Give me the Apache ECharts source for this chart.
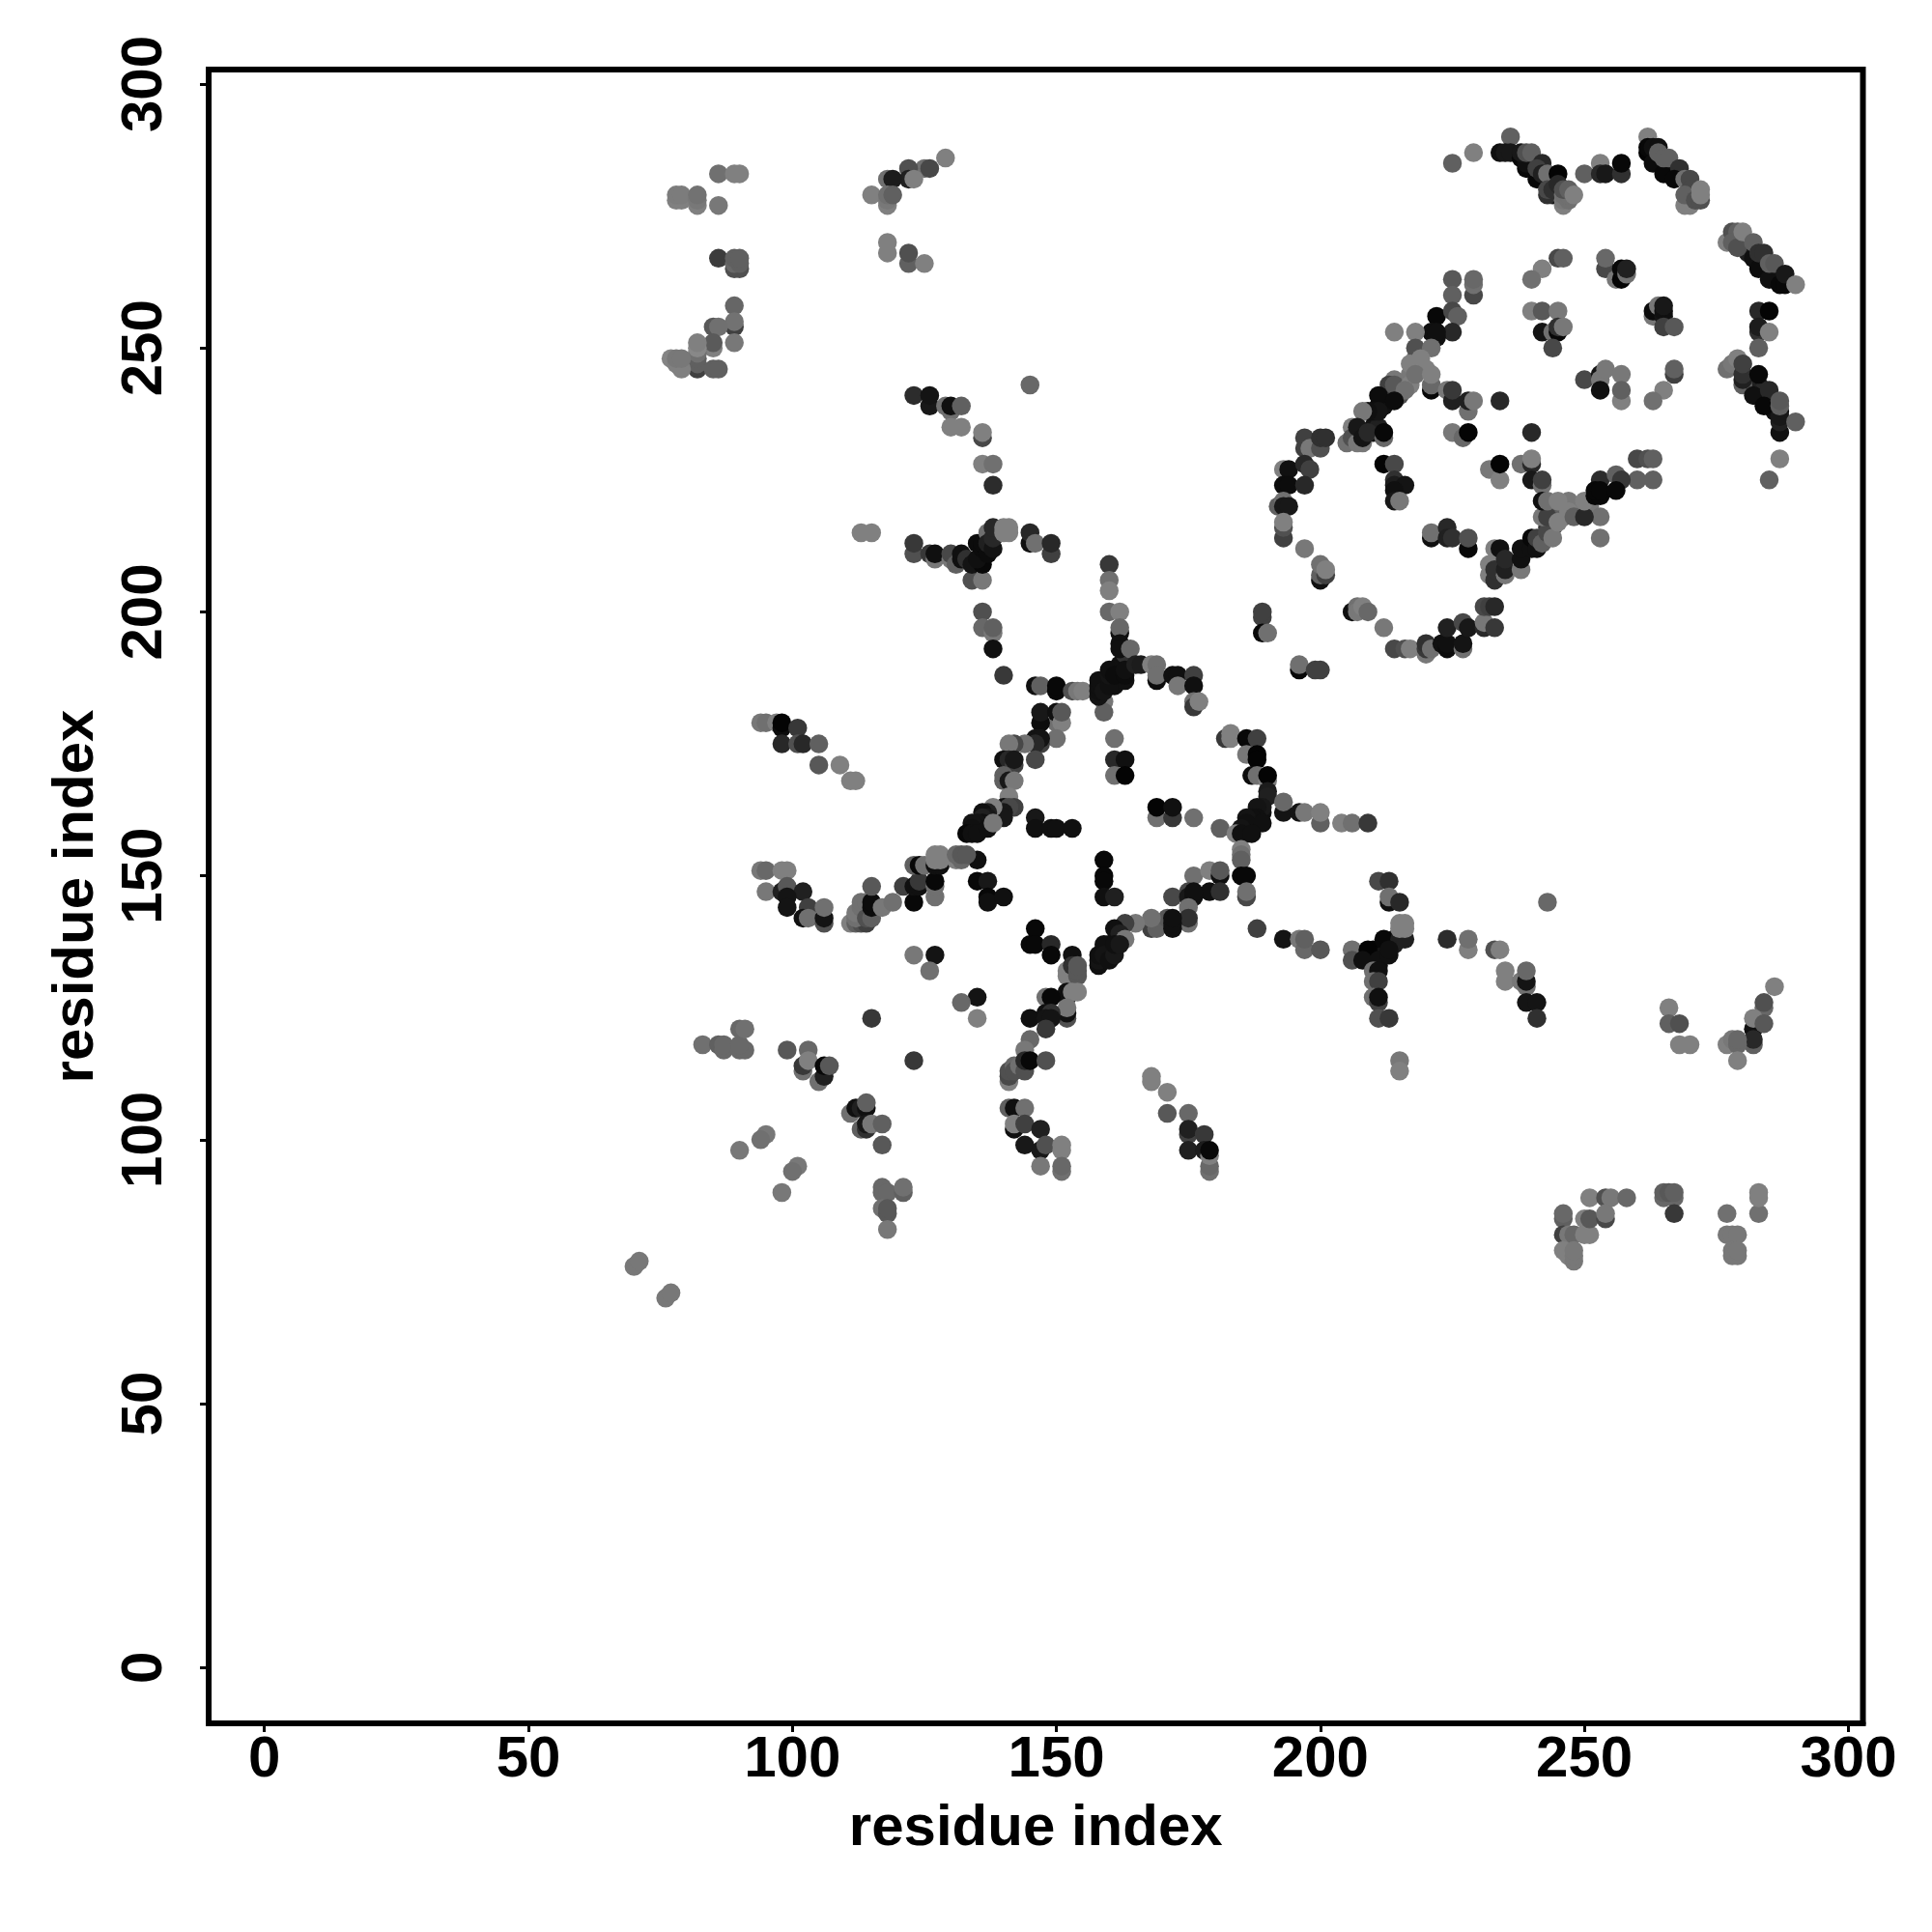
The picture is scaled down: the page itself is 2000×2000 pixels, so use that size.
<!DOCTYPE html>
<html><head><meta charset="utf-8">
<script src="https://cdn.jsdelivr.net/npm/echarts@6/dist/echarts.min.js"></script>
<style>html,body{margin:0;padding:0;background:#fff}#c{width:2000px;height:2000px}</style></head>
<body><div id="c"></div>
<script>
const axisTicks = [0, 50, 100, 150, 200, 250, 300];
const axisTitle = "residue index";
// each contact: [residue x, residue y, grey level]
const denseCores = [
[207,135,0x50],[208,135,0x08],[209,135,0x08],[210,135,0x08],[210,134,0x08],[211,135,0x10],[212,136,0x08],[212,137,0x08],[213,137,0x10],[214,137,0x20],[214,138,0x10],[210,136,0x08],[209,134,0x08],[211,133,0x10],[210,133,0x18],[212,135,0x14],
[281,243,0x10],[282,242,0x10],[283,241,0x14],[284,240,0x10],[285,239,0x08],[286,238,0x10],[287,238,0x10],[283,243,0x20],[284,242,0x28],[286,240,0x40],
[283,266,0x10],[284,265,0x14],[285,264,0x10],[286,263,0x0c],[284,266,0x30],[286,264,0x20],[281,268,0x20],[266,284,0x10],[266,283,0x0c],[267,283,0x10],[265,285,0x20],
[240,284,0x08],[240,285,0x10],[243,282,0x20],[244,281,0x20],[244,279,0x18],[243,279,0x30],
[244,220,0x78],[246,220,0x78],[247,221,0x78],[246,218,0x70],[249,219,0x78],[251,220,0x78],[245,219,0x60],[244,216,0x48],[243,216,0x30],[244,217,0x50],
[212,240,0x10],[213,241,0x14],[215,241,0x50],[216,243,0x60],[217,245,0x78],[218,246,0x80],[219,247,0x80],[218,248,0x78],[220,246,0x80],
[210,235,0x14],[211,234,0x20],[210,234,0x10],[211,235,0x20],[212,239,0x10],[211,239,0x10],
[187,160,0x10],[188,160,0x10],[188,162,0x14],[189,162,0x10],[187,159,0x14],[186,159,0x10],[186,158,0x14],
[160,136,0x10],[160,137,0x14],[161,136,0x10],[159,134,0x10],[159,136,0x10],
[161,186,0x10],[162,187,0x10],[162,188,0x10],[163,187,0x10],[162,190,0x10],[163,190,0x14],[163,191,0x10],[163,192,0x30]
];
const farTopLeft = [
[86,283,0x70],[89,283,0x80],[90,283,0x80],[78,278,0x80],[79,278,0x80],[78,279,0x7c],[79,279,0x7c],[82,277,0x80],[82,278,0x78],[82,279,0x72],[86,277,0x78],
[86,267,0x3c],[89,265,0x50],[90,265,0x50],[89,266,0x68],[90,266,0x60],[89,267,0x60],[90,267,0x60],
[89,258,0x66],[89,254,0x40],[89,255,0x72],[89,251,0x78],[85,254,0x58],[86,254,0x70],[85,250,0x80],[85,251,0x5a],
[82,246,0x40],[82,247,0x60],[82,248,0x60],[82,249,0x70],[82,250,0x88],[82,251,0x80],[77,248,0x84],[78,247,0x80],[79,246,0x80],[78,248,0x78],[79,248,0x78],[85,246,0x60],[86,246,0x60]
];
const topMiddle = [
[129,286,0x80],[125,284,0x70],[126,284,0x48],[122,284,0x50],[122,282,0x20],[123,282,0x80],[118,282,0x70],[119,282,0x1c],
[115,279,0x80],[118,277,0x80],[118,278,0x78],[118,279,0x70],[119,279,0x60],[118,270,0x80],[118,268,0x80],[122,266,0x60],[122,268,0x50],[125,266,0x80],
[123,241,0x2c],[126,239,0x18],[126,241,0x14],[130,238,0x70],[129,239,0x70],[130,239,0x10],[132,239,0x60],[130,235,0x80],[132,235,0x80],
[136,233,0x48],[136,234,0x80],[136,228,0x80],[138,228,0x70],[138,224,0x2c],[145,243,0x68]
];
const junction210 = [
[113,215,0x80],[115,215,0x80],[123,211,0x50],[123,213,0x38],[126,211,0x38],[127,210,0x78],[127,211,0x10],[130,210,0x78],[130,211,0x48],[131,209,0x60],[132,210,0x10],[132,211,0x10],
[134,206,0x50],[136,206,0x78],[133,210,0x30],[134,209,0x14],[136,209,0x08],[135,210,0x10],[135,213,0x0c],[136,212,0x0c],[136,213,0x0c],[137,215,0x70],[137,211,0x0c],[137,213,0x20],[138,212,0x14],[138,214,0x28],[138,216,0x28],
[140,215,0x80],[141,215,0x80],[140,216,0x80],[141,216,0x80],[145,213,0x10],[145,215,0x28],[146,213,0x70],[149,211,0x40],[149,213,0x28],
[136,200,0x50],[136,197,0x68],[138,196,0x78],[138,197,0x60],[138,193,0x10],[140,188,0x38]
];
const starTop = [
[160,209,0x38],[160,206,0x70],[160,204,0x80],[160,200,0x68],[162,200,0x80],[162,196,0x10],[162,197,0x68],[162,194,0x10],[162,193,0x10],[164,193,0x68],
[146,186,0x10],[147,186,0x60],[150,185,0x08],[150,186,0x08],[153,185,0x50],[154,185,0x78],[155,185,0x80],
[159,183,0x78],[159,181,0x60],[158,184,0x14],[158,185,0x10],[158,186,0x10],[158,187,0x10],[159,185,0x14],[160,186,0x10],[160,188,0x14],[160,189,0x10],[161,188,0x0c],[163,188,0x0c],[163,189,0x10],[165,190,0x20],[166,190,0x1c],[168,190,0x80],[169,190,0x70],
[169,187,0x0c],[169,188,0x70],[172,188,0x10],[173,188,0x10],[173,186,0x78],[176,188,0x40],[176,186,0x10],[176,183,0x70],[176,182,0x38],[177,183,0x80],
[150,179,0x70],[147,179,0x0c],[147,181,0x18],[150,181,0x10],[151,179,0x80],[151,181,0x58],[150,176,0x70],[146,176,0x14],[147,175,0x40],[147,176,0x14],[146,175,0x28],
[144,175,0x70],[142,175,0x48],[141,175,0x78],[140,172,0x10],[141,172,0x28],[142,171,0x40],[142,172,0x18],[146,172,0x48]
];
const starLeft = [
[140,169,0x60],[140,168,0x60],[141,168,0x18],[142,168,0x78],[141,165,0x80],[140,163,0x10],[142,163,0x40],[141,163,0x48],[140,162,0x18],[140,161,0x18],[138,163,0x80],
[137,162,0x20],[136,162,0x10],[137,161,0x18],[136,161,0x20],[136,160,0x10],[135,160,0x14],[135,159,0x10],[134,160,0x14],[134,159,0x10],[133,158,0x08],[134,158,0x10],[135,158,0x10],[137,159,0x10],[138,160,0x78],
[161,176,0x70],[161,172,0x28],[163,172,0x10],[161,169,0x70],[163,169,0x04],[146,161,0x18],[146,159,0x10],[149,159,0x10],[150,159,0x10],[153,159,0x10],
[159,153,0x08],[159,150,0x08],[159,149,0x08],[159,146,0x10],[161,146,0x20],
[169,161,0x70],[172,161,0x38],[169,163,0x04],[172,163,0x10],[176,161,0x70],[181,159,0x60]
];
const starRight = [
[182,176,0x38],[183,176,0x80],[183,177,0x80],[186,176,0x08],[188,176,0x40],[186,173,0x78],[188,173,0x04],[188,172,0x04],[187,169,0x0c],[188,169,0x70],[190,168,0x80],[190,169,0x04],[190,166,0x1c],[190,165,0x20],
[193,162,0x14],[193,164,0x68],[189,163,0x18],[188,163,0x14],[188,161,0x10],[187,161,0x10],[186,161,0x14],[186,160,0x10],[189,160,0x10],[185,159,0x14],[184,158,0x80],[185,158,0x10],[187,158,0x10],[196,162,0x14],[197,162,0x78],[200,160,0x60],[200,162,0x80],[204,160,0x80],[206,160,0x70],[209,160,0x38],
[185,155,0x80],[185,154,0x70],[185,153,0x60],[185,150,0x08],[186,150,0x08],[186,146,0x48],[186,147,0x70],
[176,150,0x70],[179,151,0x80],[181,150,0x10],[181,151,0x58],[179,147,0x10],[181,147,0x30],[172,146,0x48],[175,147,0x48],[175,146,0x18],[176,146,0x10],[176,147,0x10],[175,144,0x70],[175,141,0x70],[175,142,0x30],
[168,140,0x40],[169,140,0x60],[171,142,0x58],[168,142,0x70],[172,140,0x10],[172,141,0x10],[172,142,0x10],[165,141,0x78],[163,141,0x40],[161,140,0x10],[162,139,0x20],[163,138,0x78],
[158,133,0x10],[158,134,0x14],[158,135,0x10],[159,137,0x10],[159,135,0x14],[160,134,0x10],[161,135,0x18],[161,137,0x10],[162,137,0x18]
];
const starBottom = [
[135,153,0x10],[135,149,0x08],[137,149,0x18],[137,146,0x08],[137,145,0x10],[140,146,0x10],[146,140,0x08],[145,137,0x08],[146,137,0x08],[149,137,0x28],[149,135,0x08],[153,135,0x10],
[152,131,0x80],[152,132,0x80],[153,133,0x30],[154,131,0x58],[154,132,0x58],[154,133,0x58],[152,127,0x10],[152,128,0x10],[153,128,0x80],[154,128,0x80],[152,123,0x50],[152,124,0x10],[152,125,0x78],
[148,127,0x70],[149,127,0x08],[145,123,0x10],[148,124,0x10],[149,124,0x30],[148,123,0x14],[149,123,0x14],[148,121,0x38],[145,119,0x68],[144,117,0x78],
[135,127,0x14],[132,126,0x68],[135,123,0x80],[123,135,0x78],[127,135,0x14],[126,132,0x70],[115,123,0x38],[123,115,0x38],
[141,111,0x80],[141,112,0x48],[141,113,0x50],[142,114,0x68],[142,113,0x50],[143,114,0x70],[144,113,0x50],[144,115,0x28],[145,115,0x08],[148,115,0x50],
[141,106,0x60],[142,106,0x10],[144,106,0x70],[142,102,0x10],[142,103,0x80],[144,103,0x40],[147,102,0x20],[144,99,0x18],[147,98,0x18],[148,99,0x50],[147,95,0x78],[151,98,0x80],[151,99,0x80],[151,94,0x70],[151,95,0x68],
[168,111,0x80],[168,112,0x80],[171,109,0x80],[171,105,0x58],[175,105,0x68],[175,101,0x40],[175,102,0x20],[178,101,0x38],[175,98,0x20],[178,98,0x1c],[179,94,0x70],[179,95,0x68],[179,97,0x80],[179,98,0x08]
];
const rightOfDiagonal = [
[188,140,0x40],[193,138,0x14],[196,138,0x78],[197,136,0x68],[197,138,0x60],[200,136,0x58],
[211,149,0x48],[213,149,0x30],[213,145,0x10],[213,146,0x70],[215,145,0x28],[212,138,0x08],[215,138,0x20],[216,138,0x20],[215,140,0x80],[216,140,0x80],[215,141,0x80],[216,141,0x80],
[206,136,0x70],[206,134,0x50],[209,136,0x04],[208,134,0x10],[211,134,0x10],[213,135,0x10],[213,136,0x10],[210,132,0x70],[211,132,0x10],[210,130,0x70],[211,130,0x40],[210,127,0x70],[211,126,0x40],[211,127,0x10],[211,123,0x50],[213,123,0x38],
[215,115,0x78],[215,113,0x80],[224,138,0x2c],[228,136,0x80],[228,138,0x70],[233,136,0x50],[234,136,0x80],[235,130,0x80],[235,132,0x80],[238,130,0x78],[239,129,0x70],[239,130,0x14],[239,132,0x68],[239,126,0x14],[241,126,0x14],[241,123,0x30],[243,145,0x68],
[266,125,0x80],[266,122,0x60],[268,122,0x50],[268,118,0x80],[270,118,0x80],[286,129,0x80],[284,125,0x68],[284,126,0x50],[282,118,0x60],[282,121,0x10],[282,123,0x80],[284,122,0x58],[282,119,0x28],[277,118,0x80],[278,119,0x78],[279,118,0x68],[279,119,0x68],[279,115,0x80]
];
const farBottomRight = [
[246,85,0x60],[246,86,0x68],[246,82,0x40],[247,82,0x78],[248,82,0x68],[250,82,0x80],[251,82,0x80],[246,79,0x80],[247,78,0x80],[248,77,0x78],[248,78,0x78],[248,79,0x78],
[251,89,0x80],[254,89,0x50],[255,89,0x78],[258,89,0x68],[250,85,0x80],[251,85,0x58],[254,85,0x48],[254,86,0x78],
[265,89,0x68],[267,89,0x68],[265,90,0x60],[266,90,0x58],[267,90,0x60],[267,86,0x38],
[277,86,0x70],[283,86,0x70],[283,89,0x80],[283,90,0x80],[277,82,0x78],[278,82,0x78],[279,82,0x78],[278,78,0x78],[279,78,0x78],[278,79,0x78],[279,79,0x78]
];
const topRightEdge = [
[225,285,0x60],[229,287,0x80],[236,290,0x60],[234,287,0x10],[235,287,0x18],[236,287,0x18],[238,286,0x08],[239,284,0x08],[239,285,0x10],[238,287,0x18],[239,287,0x50],[240,287,0x60],
[242,285,0x28],[241,282,0x08],[241,284,0x40],[242,283,0x20],[243,283,0x70],[245,283,0x04],[243,280,0x48],[244,280,0x30],[245,281,0x28],[246,277,0x80],[246,278,0x78],[247,278,0x70],[246,279,0x70],[247,279,0x70],[246,280,0x50],[247,280,0x60],[248,279,0x80],
[250,283,0x60],[253,285,0x80],[253,283,0x28],[254,283,0x18],[257,283,0x30],[257,285,0x08],
[262,290,0x80],[262,287,0x04],[262,288,0x08],[263,288,0x10],[264,288,0x10],[263,285,0x0c],[265,283,0x08],[264,287,0x60],[265,286,0x60],[266,286,0x60],[268,284,0x30],[267,282,0x08],[269,282,0x70],[270,282,0x48],[270,280,0x48],[269,277,0x80],[270,277,0x80],[269,279,0x60],[271,278,0x50],[272,278,0x50],[272,279,0x80],[272,280,0x80],
[277,270,0x80],[278,272,0x50],[279,272,0x60],[278,270,0x60],[279,269,0x50],[280,272,0x80],[282,267,0x10],[282,270,0x60],[283,265,0x0c],[283,268,0x30],[284,268,0x30],[285,263,0x10],[285,266,0x60],[286,266,0x58],[287,262,0x08],[288,262,0x08],[288,264,0x18],[290,262,0x80],
[283,257,0x28],[285,257,0x04],[283,253,0x30],[283,254,0x1c],[285,253,0x80],[283,250,0x60],
[277,246,0x70],[278,247,0x78],[279,248,0x80],[280,243,0x60],[280,244,0x20],[280,245,0x30],[280,247,0x40],[283,245,0x08],[282,241,0x10],[285,242,0x28],[284,239,0x08],[287,234,0x10],[287,236,0x20],[287,237,0x18],[287,239,0x60],[287,240,0x58],[290,236,0x60],[287,229,0x80],[285,225,0x60]
];
const innerRing = [
[245,267,0x48],[246,267,0x60],[242,265,0x80],[240,263,0x70],[254,265,0x48],[254,267,0x68],[256,263,0x78],[257,263,0x04],[257,265,0x08],[258,264,0x70],[258,265,0x20],
[240,257,0x80],[242,257,0x58],[245,257,0x78],[242,253,0x14],[244,253,0x70],[245,253,0x08],[245,254,0x30],[246,254,0x78],[244,250,0x48],
[263,256,0x78],[263,257,0x0c],[264,258,0x78],[265,256,0x14],[265,257,0x10],[265,258,0x18],[265,254,0x40],[267,254,0x58],
[250,244,0x48],[253,245,0x14],[253,244,0x78],[254,246,0x78],[253,242,0x10],[257,245,0x78],[257,240,0x80],[257,242,0x60],[267,245,0x40],[267,246,0x60],[265,242,0x80],[263,240,0x70],
[260,229,0x48],[262,229,0x50],[263,229,0x60],[260,225,0x60],[263,225,0x60],[234,240,0x28],[240,234,0x28],[232,227,0x78],[234,225,0x80],[234,228,0x04],
[238,228,0x70],[240,228,0x28],[240,229,0x80],[240,225,0x18],[242,224,0x70],[242,225,0x40],[253,225,0x2c],[256,226,0x60],[257,225,0x38],[253,214,0x70],[253,218,0x70]
];
const outerRing = [
[225,263,0x58],[225,260,0x60],[229,260,0x48],[229,262,0x70],[229,263,0x68],[222,256,0x08],[225,257,0x48],[226,256,0x60],[225,253,0x28],[221,253,0x10],[222,252,0x10],[222,253,0x10],[214,253,0x80],[218,253,0x80],
[218,250,0x50],[221,250,0x70],[219,248,0x80],[217,247,0x80],[214,244,0x78],[213,243,0x40],[214,243,0x58],[217,243,0x80],[218,245,0x70],[216,242,0x70],[221,242,0x08],[221,243,0x68],[221,245,0x80],
[211,241,0x0c],[214,240,0x0c],[210,238,0x10],[211,238,0x14],[209,238,0x10],[208,238,0x78],
[224,242,0x78],[225,240,0x20],[225,242,0x38],[228,238,0x70],[228,240,0x20],[229,240,0x78],[225,234,0x78],[227,233,0x68],[228,234,0x04],
[205,232,0x70],[206,235,0x80],[206,233,0x50],[207,232,0x78],[208,232,0x78],[207,235,0x18],[208,233,0x14],[209,234,0x28],[212,233,0x68],[212,234,0x08],
[212,228,0x04],[214,228,0x48],[214,225,0x30],[214,224,0x1c],[216,224,0x14],[214,223,0x10],[214,221,0x18],[215,221,0x78],
[197,231,0x40],[197,233,0x40],[198,231,0x78],[200,231,0x50],[200,233,0x30],[201,233,0x30],[193,227,0x80],[194,227,0x10],[197,228,0x28],[198,227,0x40],[193,224,0x0c],[194,224,0x0c],[197,224,0x28],
[192,220,0x60],[193,221,0x70],[193,220,0x18],[194,220,0x18],[193,214,0x40],[193,216,0x50],[193,217,0x80],[197,212,0x78],
[200,206,0x10],[200,207,0x60],[201,207,0x40],[200,209,0x70],[201,208,0x80],
[221,214,0x10],[221,215,0x70],[224,216,0x28],[224,214,0x20],[225,214,0x30],[228,212,0x08],[228,214,0x50]
];
const ringBottom = [
[206,200,0x10],[207,201,0x70],[207,200,0x78],[208,201,0x80],[209,200,0x68],[212,197,0x78],[214,193,0x48],[216,193,0x50],[217,193,0x80],
[220,192,0x78],[220,193,0x38],[220,194,0x30],[221,193,0x70],[223,194,0x10],[224,193,0x0c],[224,194,0x10],[224,197,0x20],[227,193,0x70],[227,194,0x14],[227,198,0x48],[228,197,0x18],
[231,197,0x28],[231,198,0x78],[233,197,0x38],[231,201,0x48],[232,201,0x40],[233,201,0x28],
[189,199,0x40],[189,200,0x40],[189,196,0x08],[190,196,0x70],[196,189,0x08],[196,190,0x70],[199,189,0x40],[200,189,0x40]
];
const ringArm = [
[232,207,0x80],[232,209,0x80],[233,206,0x30],[233,208,0x30],[233,212,0x80],[234,212,0x10],[235,207,0x78],[235,208,0x20],[235,210,0x28],[238,208,0x78],[238,210,0x10],[238,212,0x10],[240,212,0x10],[240,214,0x08],[241,212,0x10],[241,214,0x40],[242,213,0x60],[243,215,0x48],[244,214,0x78],
[242,218,0x78],[243,218,0x40],[242,221,0x10],[243,221,0x70],[245,217,0x80],[245,221,0x80],[247,219,0x80],[248,218,0x60],[250,218,0x28],[250,221,0x80],[252,222,0x08],[253,222,0x08],[252,223,0x08],[253,223,0x08],[256,223,0x08]
];
const lowerLeft = [
[94,179,0x78],[95,179,0x70],[97,179,0x80],[98,178,0x0c],[98,179,0x04],[101,178,0x38],[98,175,0x28],[101,175,0x50],[102,175,0x28],[105,175,0x60],[105,171,0x58],[109,171,0x80],[111,168,0x80],[112,168,0x80],
[94,151,0x78],[95,151,0x68],[98,151,0x80],[99,151,0x80],[95,147,0x78],[98,147,0x20],[99,148,0x58],[102,147,0x20],[99,146,0x14],[99,144,0x14],[103,144,0x40],[102,142,0x10],[103,142,0x70],[106,141,0x50],[106,142,0x14],[106,144,0x70],
[111,141,0x80],[112,141,0x60],[113,141,0x50],[114,141,0x40],[112,142,0x70],[112,143,0x78],[113,144,0x70],[113,145,0x70],[114,145,0x70],[114,142,0x50],[115,142,0x60],[115,144,0x0c],[115,145,0x0c],[115,148,0x58],[117,144,0x78],[119,145,0x70],
[121,148,0x40],[123,145,0x08],[123,148,0x10],[124,148,0x10],[124,149,0x38],[123,152,0x60],[124,152,0x08],[125,152,0x70],[127,146,0x70],[127,148,0x70],[127,149,0x08],[127,152,0x10],[128,152,0x10],[127,153,0x80],[128,153,0x80],[127,154,0x80],[128,154,0x80],
[131,153,0x80],[132,153,0x68],[131,154,0x68],[132,154,0x58],[133,154,0x58],
[83,118,0x70],[86,118,0x60],[87,117,0x68],[87,118,0x68],[90,117,0x68],[91,117,0x68],[90,118,0x68],[90,121,0x68],[91,121,0x70],
[99,117,0x58],[103,117,0x68],[102,113,0x70],[102,114,0x38],[103,115,0x80],[105,111,0x70],[106,112,0x20],[106,114,0x08],[107,114,0x58],
[111,105,0x70],[112,106,0x10],[113,106,0x20],[114,106,0x10],[114,107,0x60],[113,102,0x60],[114,102,0x30],[114,103,0x18],[115,103,0x78],[117,103,0x60],[117,99,0x58],
[95,101,0x78],[94,100,0x70],[90,98,0x78],[101,95,0x78],[100,94,0x70],[98,90,0x78],
[117,91,0x68],[117,90,0x68],[118,90,0x68],[121,90,0x60],[121,91,0x70],[117,87,0x70],[118,86,0x58],[118,87,0x58],[118,83,0x78],
[70,76,0x78],[71,77,0x78],[76,70,0x78],[77,71,0x78]
];
const contacts = [denseCores, farTopLeft, topMiddle, junction210, starTop, starLeft, starRight, starBottom, rightOfDiagonal, farBottomRight, topRightEdge, innerRing, outerRing, ringBottom, ringArm, lowerLeft].flat();

const fontFamily = '"Liberation Sans", Arial, sans-serif';
function axis(gap, rotate, margin) {
  return {
    type: 'value', min: -10.56, max: 302.75,
    name: axisTitle, nameLocation: 'middle', nameGap: gap,
    nameTextStyle: { fontFamily, fontWeight: 'bold', fontSize: 60, color: '#000' },
    splitLine: { show: false },
    axisLine: { show: true, onZero: false, lineStyle: { color: '#000', width: 6 } },
    axisTick: { show: true, length: 9, lineStyle: { color: '#000', width: 3 }, customValues: axisTicks },
    axisLabel: { show: true, rotate, margin, fontFamily, fontWeight: 'bold', fontSize: 60, color: '#000', customValues: axisTicks, hideOverlap: false }
  };
}
const chart = echarts.init(document.getElementById('c'), null, { renderer: 'canvas' });
chart.setOption({
  animation: false,
  backgroundColor: '#fff',
  grid: { left: 216, top: 72, width: 1712.5, height: 1712, show: true, borderColor: '#000', borderWidth: 6, backgroundColor: 'transparent' },
  xAxis: axis(79, 0, 8),
  yAxis: axis(107, 90, 36),
  series: [{
    type: 'scatter', symbol: 'circle', symbolSize: 19.5, silent: true,
    data: contacts.map(c => ({ value: [c[0], c[1]], itemStyle: { color: `rgb(${c[2]},${c[2]},${c[2]})`, opacity: 1 } }))
  }]
});
</script></body></html>
